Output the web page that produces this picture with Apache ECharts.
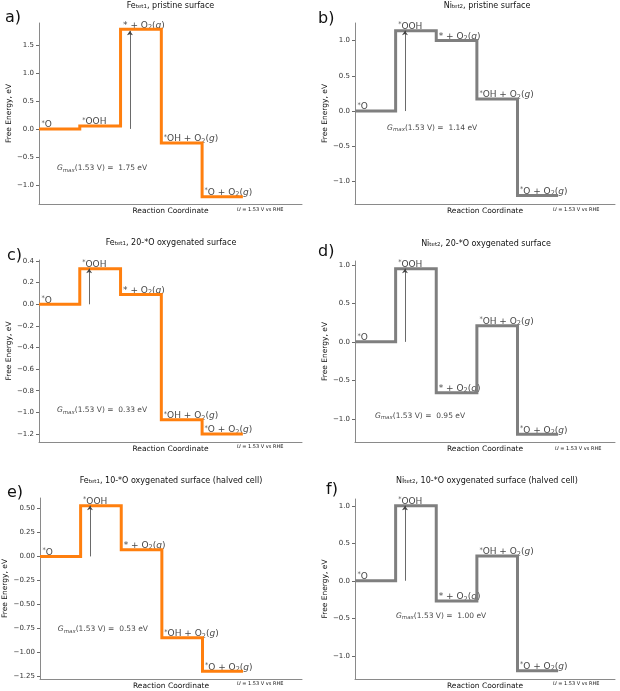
<!DOCTYPE html>
<html><head><meta charset="utf-8">
<script src="https://cdn.jsdelivr.net/npm/echarts@6/dist/echarts.min.js"></script>
<style>html,body{margin:0;padding:0;background:#fff}#c{width:620px;height:691px}</style>
</head><body><div id="c"></div><script>
// ---------------- data ----------------
const stepLabels = ['{s|*}O', '{s|*}OOH', '* + O{b|2}({i|g})', '{s|*}OH + O{b|2}({i|g})', '{s|*}O + O{b|2}({i|g})'];
const panelTitles = [
  'Fe{sub|tet1}, pristine surface',
  'Ni{sub|tet2}, pristine surface',
  'Fe{sub|tet1}, 20-*O oxygenated surface',
  'Ni{sub|tet2}, 20-*O oxygenated surface',
  'Fe{sub|tet1}, 10-*O oxygenated surface (halved cell)',
  'Ni{sub|tet2}, 10-*O oxygenated surface (halved cell)'
];
const panelLetters = ['a)', 'b)', 'c)', 'd)', 'e)', 'f)'];
const levelsA = [0.00, 0.05, 1.78, -0.25, -1.21];
const levelsB = [0.00, 1.14, 1.00, 0.17, -1.20];
const levelsC = [0.00, 0.33, 0.09, -1.07, -1.20];
const levelsD = [0.00, 0.95, -0.66, 0.21, -1.20];
const levelsE = [0.00, 0.53, 0.07, -0.85, -1.20];
const levelsF = [0.00, 1.00, -0.27, 0.33, -1.20];
const gmaxValues = [1.75, 1.14, 0.33, 0.95, 0.53, 1.00];
const gmaxStepIndex = [2, 1, 1, 1, 1, 1];
const ticksA = [-1.0, -0.5, 0.0, 0.5, 1.0, 1.5];
const ticksB = [-1.0, -0.5, 0.0, 0.5, 1.0];
const ticksC = [-1.2, -1.0, -0.8, -0.6, -0.4, -0.2, 0.0, 0.2, 0.4];
const ticksD = [-1.0, -0.5, 0.0, 0.5, 1.0];
const ticksE = [-1.25, -1.00, -0.75, -0.50, -0.25, 0.00, 0.25, 0.50];
const ticksF = [-1.0, -0.5, 0.0, 0.5, 1.0];
const potentialText = '{u|U} = 1.53 V vs RHE';
const xAxisTitle = 'Reaction Coordinate';
const yAxisTitle = 'Free Energy, eV';

// ---------------- style / layout ----------------
const FONT = '"DejaVu Sans", sans-serif';
const ORANGE = '#ff7f0e', GRAY = '#7f7f7f';
const TXT = '#111111';
const ARROW_COLOR = '#444444';
const ARROW_DX = 0.23;

const panels = [
  {levels: levelsA, ticks: ticksA, color: ORANGE, dec: 1, grid: {left: 39, top: 23, width: 263, height: 181}, ymin: -1.34, ymax: 1.89, xmax: 6.45, nameGap: 26, title: [170.5, 6], letter: [5, 17.5], gmaxPos: [0.44, -0.70], pot: [237, 210]},
  {levels: levelsB, ticks: ticksB, color: GRAY, dec: 1, grid: {left: 355, top: 23, width: 260, height: 181}, ymin: -1.32, ymax: 1.25, xmax: 6.40, nameGap: 26, title: [487, 6], letter: [318, 18.5], gmaxPos: [0.79, -0.24], pot: [553, 210]},
  {levels: levelsC, ticks: ticksC, color: ORANGE, dec: 1, grid: {left: 39, top: 260, width: 263, height: 182}, ymin: -1.275, ymax: 0.41, xmax: 6.45, nameGap: 26, title: [171, 243], letter: [7, 255.5], gmaxPos: [0.44, -0.98], pot: [237, 447]},
  {levels: levelsD, ticks: ticksD, color: GRAY, dec: 1, grid: {left: 355, top: 261, width: 260, height: 181}, ymin: -1.30, ymax: 1.05, xmax: 6.40, nameGap: 26, title: [486, 244], letter: [318, 252], gmaxPos: [0.49, -0.96], pot: [555, 449]},
  {levels: levelsE, ticks: ticksE, color: ORANGE, dec: 2, grid: {left: 39, top: 498, width: 263, height: 182}, ymin: -1.28, ymax: 0.61, xmax: 6.45, nameGap: 31, title: [171, 481], letter: [7, 492.5], gmaxPos: [0.44, -0.76], pot: [237, 684]},
  {levels: levelsF, ticks: ticksF, color: GRAY, dec: 1, grid: {left: 355, top: 499, width: 260, height: 181}, ymin: -1.31, ymax: 1.09, xmax: 6.40, nameGap: 26, title: [487, 481], letter: [326, 490], gmaxPos: [1.01, -0.47], pot: [553, 684]}
];

const stepRich = {
  n: {fontSize: 9, fontFamily: FONT, color: TXT, lineHeight: 11, verticalAlign: 'middle'},
  s: {fontSize: 6.5, fontFamily: FONT, color: TXT, lineHeight: 6, verticalAlign: 'top'},
  b: {fontSize: 6.5, fontFamily: FONT, color: TXT, lineHeight: 5, verticalAlign: 'bottom'},
  i: {fontSize: 9, fontFamily: FONT, fontStyle: 'italic', color: TXT, lineHeight: 11, verticalAlign: 'middle'}
};
const gmaxRich = {
  g: {fontSize: 7.5, fontFamily: FONT, fontStyle: 'italic', color: TXT, lineHeight: 10},
  m: {fontSize: 5.5, fontFamily: FONT, fontStyle: 'italic', color: TXT, lineHeight: 5, verticalAlign: 'bottom'}
};
function wrapPlain(str) {
  return str.replace(/(^|\})([^{}]+)(?=\{|$)/g, (m, p, t) => p + '{n|' + t + '}');
}
function fmtTick(v, dec) { return (v < 0 ? '\u2212' : '') + Math.abs(v).toFixed(dec); }

const grids = [], xAxes = [], yAxes = [], series = [], graphics = [];
panels.forEach((p, k) => {
  grids.push(Object.assign({containLabel: false}, p.grid));
  xAxes.push({
    type: 'value', gridIndex: k, min: 0, max: p.xmax,
    axisLine: {show: true, onZero: false, lineStyle: {color: '#8a8a8a', width: 1}},
    axisTick: {show: false}, axisLabel: {show: false}, splitLine: {show: false},
    name: xAxisTitle, nameLocation: 'middle', nameGap: 3,
    nameTextStyle: {fontSize: 7.5, fontFamily: FONT, color: TXT, verticalAlign: 'top'}
  });
  yAxes.push({
    type: 'value', gridIndex: k, min: p.ymin, max: p.ymax,
    axisLine: {show: true, onZero: false, lineStyle: {color: '#8a8a8a', width: 1}},
    axisTick: {show: true, length: 3, customValues: p.ticks, lineStyle: {color: '#444', width: 0.8}},
    axisLabel: {show: true, customValues: p.ticks, margin: 5, fontSize: 7, fontFamily: FONT, color: '#333',
      formatter: (v) => fmtTick(v, p.dec)},
    splitLine: {show: false},
    name: yAxisTitle, nameLocation: 'middle', nameGap: p.nameGap, nameRotate: 90,
    nameTextStyle: {fontSize: 7.5, fontFamily: FONT, color: TXT}
  });
  const stepData = p.levels.map((v, i) => [i, v]);
  stepData.push([p.levels.length, p.levels[p.levels.length - 1]]);
  const gi = gmaxStepIndex[k];
  // arrow for the largest step (drawn first, under the level line)
  series.push({
    type: 'line', xAxisIndex: k, yAxisIndex: k, data: [], silent: true, animation: false,
    itemStyle: {color: ARROW_COLOR}, lineStyle: {color: ARROW_COLOR},
    markLine: {
      silent: true, animation: false, symbol: ['none', 'arrow'], symbolSize: 4.5,
      label: {show: false},
      itemStyle: {color: ARROW_COLOR},
      lineStyle: {color: ARROW_COLOR, width: 0.8, type: 'solid'},
      data: [[{coord: [gi + ARROW_DX, 0]}, {coord: [gi + ARROW_DX, gmaxValues[k]]}]]
    }
  });
  series.push({
    type: 'line', xAxisIndex: k, yAxisIndex: k, step: 'end', data: stepData,
    showSymbol: false, symbol: 'none', silent: true, animation: false,
    lineStyle: {color: p.color, width: 3, join: 'miter', cap: 'butt'}
  });
  series.push({
    type: 'scatter', xAxisIndex: k, yAxisIndex: k, symbolSize: 0, silent: true, animation: false,
    itemStyle: {color: 'transparent'},
    data: p.levels.map((v, i) => ({value: [i, v], name: stepLabels[i]})),
    label: {show: true, position: 'insideBottomLeft', distance: 0, offset: [2.5, 1.5],
      formatter: (q) => wrapPlain(q.name), rich: stepRich}
  });
  series.push({
    type: 'scatter', xAxisIndex: k, yAxisIndex: k, symbolSize: 0, silent: true, animation: false,
    itemStyle: {color: 'transparent'},
    data: [{value: p.gmaxPos, name: gmaxValues[k].toFixed(2)}],
    label: {show: true, position: 'right', distance: 0, fontSize: 7.5, fontFamily: FONT, color: TXT,
      formatter: (q) => '{g|G}{m|max}(1.53 V) =  ' + q.name + ' eV', rich: gmaxRich}
  });
  graphics.push({
    type: 'text', x: p.title[0], y: p.title[1], silent: true,
    style: {text: panelTitles[k], fontSize: 8, fontFamily: FONT, fill: TXT, align: 'center', verticalAlign: 'middle',
      rich: {sub: {fontSize: 5.5, fontFamily: FONT, fill: TXT, lineHeight: 5, verticalAlign: 'bottom'}}}
  });
  graphics.push({
    type: 'text', x: p.letter[0], y: p.letter[1], silent: true,
    style: {text: panelLetters[k], fontSize: 16, fontFamily: FONT, fill: '#111', align: 'left', verticalAlign: 'middle'}
  });
  graphics.push({
    type: 'text', x: p.pot[0], y: p.pot[1], silent: true,
    style: {text: potentialText, fontSize: 5, fontFamily: FONT, fill: TXT, align: 'left', verticalAlign: 'middle',
      rich: {u: {fontSize: 5, fontStyle: 'italic', fontFamily: FONT, fill: TXT}}}
  });
});

const chart = echarts.init(document.getElementById('c'), null, {renderer: 'canvas'});
chart.setOption({
  backgroundColor: '#ffffff',
  animation: false,
  grid: grids, xAxis: xAxes, yAxis: yAxes, series: series, graphic: graphics
});
</script></body></html>
